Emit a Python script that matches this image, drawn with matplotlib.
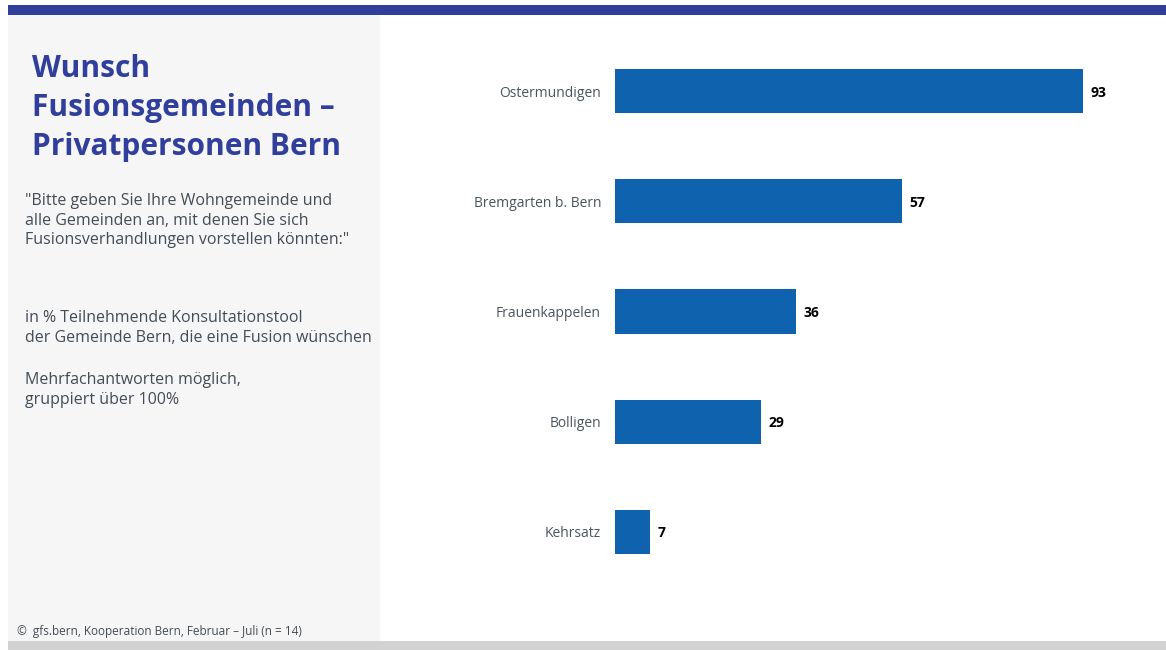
import matplotlib.pyplot as plt
from matplotlib.patches import Rectangle

plt.rcParams['font.family'] = ['Open Sans', 'DejaVu Sans']

gemeinden = ['Ostermundigen', 'Bremgarten b. Bern', 'Frauenkappelen', 'Bolligen', 'Kehrsatz']
anteile = [93, 57, 36, 29, 7]

titel = 'Wunsch\nFusionsgemeinden –\nPrivatpersonen Bern'
frage = ('"Bitte geben Sie Ihre Wohngemeinde und\n'
         'alle Gemeinden an, mit denen Sie sich\n'
         'Fusionsverhandlungen vorstellen könnten:"')
basis = 'in % Teilnehmende Konsultationstool\nder Gemeinde Bern, die eine Fusion wünschen'
hinweis = 'Mehrfachantworten möglich,\ngruppiert über 100%'
quelle = '©  gfs.bern, Kooperation Bern, Februar – Juli (n = 14)'

W, H = 1166, 650
fig = plt.figure(figsize=(W / 100, H / 100), dpi=100)
fig.patch.set_facecolor('white')

# Rahmen: blauer Balken oben, graues Seitenpanel, graue Leiste unten
fig.add_artist(Rectangle((8 / W, 1 - 15 / H), 1, 10 / H, transform=fig.transFigure,
                         color='#303f9c', lw=0))
fig.add_artist(Rectangle((8 / W, 1 - 641 / H), 372 / W, 626 / H, transform=fig.transFigure,
                         color='#f6f6f6', lw=0))
fig.add_artist(Rectangle((8 / W, 0), 1, 9 / H, transform=fig.transFigure,
                         color='#d2d2d2', lw=0))

fig.text(32 / W, 1 - 54 / H, titel, color='#303f9c', fontsize=21.5, fontweight='bold',
         va='top', ha='left', linespacing=1.4)
fig.text(25 / W, 1 - 193 / H, frage, color='#444c55', fontsize=11.5, va='top', ha='left',
         linespacing=1.3)
fig.text(25 / W, 1 - 310 / H, basis, color='#444c55', fontsize=11.5, va='top', ha='left',
         linespacing=1.3)
fig.text(25 / W, 1 - 372 / H, hinweis, color='#444c55', fontsize=11.5, va='top', ha='left',
         linespacing=1.3)
fig.text(17 / W, 1 - 631 / H, quelle, color='#444c55', fontsize=8.5, va='center', ha='left')

# Balkendiagramm
ax = fig.add_axes([615 / W, 1 - 587 / H, 503 / W, 551 / H])
y = list(range(len(gemeinden)))
ax.barh(y, anteile, height=0.4, color='#0f62ae')
ax.set_xlim(0, 100)
ax.set_ylim(len(gemeinden) - 0.5, -0.5)
ax.set_yticks(y)
ax.set_yticklabels(gemeinden, fontsize=10, color='#4a545e', va='center_baseline')
ax.tick_params(axis='y', length=0, pad=10)
ax.set_xticks([])
for s in ax.spines.values():
    s.set_visible(False)
ax.patch.set_alpha(0)

for yi, v in zip(y, anteile):
    ax.text(v + 1.5, yi, str(v), va='center_baseline', ha='left', fontsize=10,
            fontweight='bold', color='black')

fig.savefig('out.png', dpi=100)
